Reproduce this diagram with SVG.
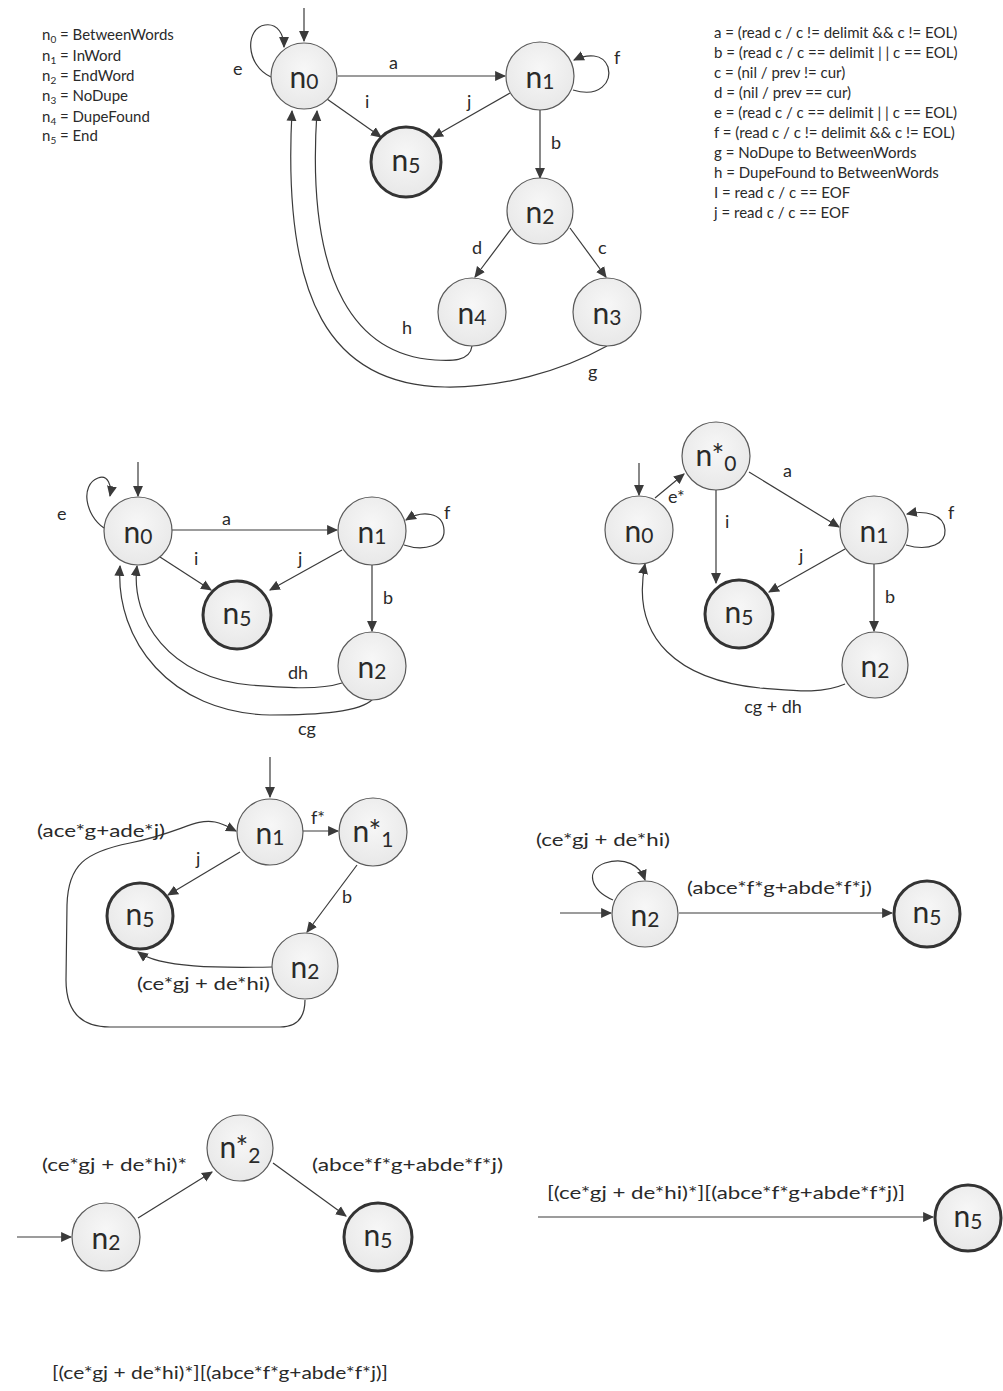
<svg xmlns="http://www.w3.org/2000/svg" width="1003" height="1391" viewBox="0 0 1003 1391">
  <defs>
    <marker id="arr" viewBox="0 0 10 10" refX="9" refY="5" markerWidth="11" markerHeight="11" markerUnits="userSpaceOnUse" orient="auto">
      <path d="M0,0.5 L10,5 L0,9.5 z" fill="#3a3a3a"/>
    </marker>
    <radialGradient id="nodeFill" cx="0.5" cy="0.4" r="0.6">
      <stop offset="0" stop-color="#f7f7f7"/>
      <stop offset="1" stop-color="#e8e8e8"/>
    </radialGradient>
  </defs>
  <style>
    text { font-family: Lato, "Liberation Sans", sans-serif; fill: #2a2a2a; }
    .st { fill: url(#nodeFill); stroke: #5a5a5a; stroke-width: 1.2; }
    .fin { fill: url(#nodeFill); stroke: #333; stroke-width: 3; }
    .nl { font-size: 30px; text-anchor: middle; }
    .sub { font-size: 21px; }
    .e { fill: none; stroke: #3a3a3a; stroke-width: 1.2; marker-end: url(#arr); }
    .lbl { font-size: 18px; }
    .leg { font-size: 15px; }
    .lsub { font-size: 10px; }
  </style>

  <rect width="1003" height="1391" fill="#ffffff"/>

  <!-- state legend -->
  <g id="legend-states">
    <text x="42" y="40" class="leg">n<tspan class="lsub" dy="3">0</tspan><tspan dy="-3"> = BetweenWords</tspan></text>
    <text x="42" y="61" class="leg">n<tspan class="lsub" dy="3">1</tspan><tspan dy="-3"> = InWord</tspan></text>
    <text x="42" y="81" class="leg">n<tspan class="lsub" dy="3">2</tspan><tspan dy="-3"> = EndWord</tspan></text>
    <text x="42" y="101" class="leg">n<tspan class="lsub" dy="3">3</tspan><tspan dy="-3"> = NoDupe</tspan></text>
    <text x="42" y="122" class="leg">n<tspan class="lsub" dy="3">4</tspan><tspan dy="-3"> = DupeFound</tspan></text>
    <text x="42" y="141" class="leg">n<tspan class="lsub" dy="3">5</tspan><tspan dy="-3"> = End</tspan></text>
  </g>

  <!-- transition legend -->
  <g id="legend-transitions">
    <text x="714" y="38" class="leg">a = (read c / c != delimit &amp;&amp; c != EOL)</text>
    <text x="714" y="58" class="leg">b = (read c / c == delimit | | c == EOL)</text>
    <text x="714" y="78" class="leg">c =  (nil / prev != cur)</text>
    <text x="714" y="98" class="leg">d =  (nil / prev == cur)</text>
    <text x="714" y="118" class="leg">e =  (read c / c == delimit | | c == EOL)</text>
    <text x="714" y="138" class="leg">f = (read c / c != delimit &amp;&amp; c != EOL)</text>
    <text x="714" y="158" class="leg">g = NoDupe to BetweenWords</text>
    <text x="714" y="178" class="leg">h = DupeFound to BetweenWords</text>
    <text x="714" y="198" class="leg">I = read c / c == EOF</text>
    <text x="714" y="218" class="leg">j = read c / c == EOF</text>
  </g>

  <!-- ===== Automaton 1: full machine ===== -->
  <g id="a1-connectors">
    <path class="e" d="M304,8 L304,41"/>
    <path class="e" d="M271,77 C 245,65 245,28 265,25 C 278,23 284,35 284,47"/>
    <path class="e" d="M338,76 L505,76"/>
    <path class="e" d="M327,99 L381,137"/>
    <path class="e" d="M510,93 L433,137"/>
    <path class="e" d="M573,90 C 600,98 612,82 608,67 C 603,53 587,54 574,60"/>
    <path class="e" d="M540,109 L540,178"/>
    <path class="e" d="M511,229 L475,277"/>
    <path class="e" d="M570,228 L606,277"/>
    <path class="e" d="M472,346 C 470,362 450,361 435,360 C 360,355 305,290 317,111"/>
    <path class="e" d="M607,346 C 560,372 500,388 445,387 C 330,385 282,300 292,111"/>
    <text x="233" y="75" class="lbl">e</text>
    <text x="389" y="69" class="lbl">a</text>
    <text x="365" y="108" class="lbl">i</text>
    <text x="467" y="108" class="lbl">j</text>
    <text x="614" y="64" class="lbl">f</text>
    <text x="551" y="149" class="lbl">b</text>
    <text x="472" y="254" class="lbl">d</text>
    <text x="598" y="254" class="lbl">c</text>
    <text x="402" y="334" class="lbl">h</text>
    <text x="588" y="378" class="lbl">g</text>
  </g>
  <g id="a1-n0"><circle class="st" cx="304" cy="76" r="33"/><text class="nl" x="304" y="88">n<tspan class="sub" dy="1">0</tspan></text></g>
  <g id="a1-n1"><circle class="st" cx="540" cy="76" r="34"/><text class="nl" x="540" y="88">n<tspan class="sub" dy="1">1</tspan></text></g>
  <g id="a1-n5"><circle class="fin" cx="406" cy="162" r="35"/><text class="nl" x="406" y="171">n<tspan class="sub" dy="2">5</tspan></text></g>
  <g id="a1-n2"><circle class="st" cx="540" cy="211" r="33"/><text class="nl" x="540" y="223">n<tspan class="sub" dy="1">2</tspan></text></g>
  <g id="a1-n4"><circle class="st" cx="472" cy="312" r="34"/><text class="nl" x="472" y="324">n<tspan class="sub" dy="1">4</tspan></text></g>
  <g id="a1-n3"><circle class="st" cx="607" cy="312" r="34"/><text class="nl" x="607" y="324">n<tspan class="sub" dy="1">3</tspan></text></g>

  <!-- ===== Automaton 2: n3/n4 eliminated ===== -->
  <g id="a2-connectors">
    <path class="e" d="M138,462 L138,496"/>
    <path class="e" d="M104,528 C 85,515 80,485 98,478 C 108,474 112,486 110,496"/>
    <path class="e" d="M172,530 L337,530"/>
    <path class="e" d="M160,557 L211,590"/>
    <path class="e" d="M342,550 L270,590"/>
    <path class="e" d="M404,545 C 425,552 445,545 444,530 C 443,512 422,510 406,520"/>
    <path class="e" d="M372,565 L372,631"/>
    <path class="e" d="M342,683 C 320,690 290,688 250,685 C 170,678 130,620 137,566"/>
    <path class="e" d="M373,699 C 360,712 320,715 270,715 C 170,713 115,640 120,566"/>
    <text x="57" y="520" class="lbl">e</text>
    <text x="222" y="525" class="lbl">a</text>
    <text x="194" y="565" class="lbl">i</text>
    <text x="298" y="565" class="lbl">j</text>
    <text x="444" y="519" class="lbl">f</text>
    <text x="383" y="604" class="lbl">b</text>
    <text x="288" y="679" class="lbl">dh</text>
    <text x="298" y="735" class="lbl">cg</text>
  </g>
  <g id="a2-n0"><circle class="st" cx="138" cy="531" r="34"/><text class="nl" x="138" y="543">n<tspan class="sub" dy="1">0</tspan></text></g>
  <g id="a2-n1"><circle class="st" cx="372" cy="531" r="34"/><text class="nl" x="372" y="543">n<tspan class="sub" dy="1">1</tspan></text></g>
  <g id="a2-n5"><circle class="fin" cx="237" cy="615" r="34"/><text class="nl" x="237" y="624">n<tspan class="sub" dy="2">5</tspan></text></g>
  <g id="a2-n2"><circle class="st" cx="372" cy="666" r="34"/><text class="nl" x="372" y="678">n<tspan class="sub" dy="1">2</tspan></text></g>

  <!-- ===== Automaton 3: e-loop split out ===== -->
  <g id="a3-connectors">
    <path class="e" d="M639,463 L639,495"/>
    <path class="e" d="M655,498 L684,474"/>
    <path class="e" d="M749,472 L839,527"/>
    <path class="e" d="M716,489 L716,583"/>
    <path class="e" d="M845,549 L769,592"/>
    <path class="e" d="M906,545 C 930,552 946,543 945,530 C 944,514 925,510 907,514"/>
    <path class="e" d="M874,563 L874,631"/>
    <path class="e" d="M845,684 C 820,695 790,690 760,688 C 680,680 630,640 645,564"/>
    <text x="668" y="503" class="lbl">e*</text>
    <text x="783" y="477" class="lbl">a</text>
    <text x="725" y="528" class="lbl">i</text>
    <text x="799" y="562" class="lbl">j</text>
    <text x="948" y="519" class="lbl">f</text>
    <text x="885" y="603" class="lbl">b</text>
    <text x="773" y="713" class="lbl" text-anchor="middle">cg + dh</text>
  </g>
  <g id="a3-n0"><circle class="st" cx="639" cy="530" r="34"/><text class="nl" x="639" y="542">n<tspan class="sub" dy="1">0</tspan></text></g>
  <g id="a3-n0star"><circle class="st" cx="716" cy="456" r="34"/><text class="nl" x="716" y="466">n*<tspan class="sub" dy="5">0</tspan></text></g>
  <g id="a3-n1"><circle class="st" cx="874" cy="530" r="34"/><text class="nl" x="874" y="542">n<tspan class="sub" dy="1">1</tspan></text></g>
  <g id="a3-n5"><circle class="fin" cx="739" cy="614" r="34"/><text class="nl" x="739" y="623">n<tspan class="sub" dy="2">5</tspan></text></g>
  <g id="a3-n2"><circle class="st" cx="875" cy="665" r="33"/><text class="nl" x="875" y="677">n<tspan class="sub" dy="1">2</tspan></text></g>

  <!-- ===== Automaton 4: n0 eliminated ===== -->
  <g id="a4-connectors">
    <path class="e" d="M270,757 L270,797"/>
    <path class="e" d="M303,831 L338,831"/>
    <path class="e" d="M240,852 L168,895"/>
    <path class="e" d="M357,865 L307,932"/>
    <path class="e" d="M272,967 C 220,968 160,968 138,952"/>
    <path class="e" d="M305,1000 C 305,1020 295,1027 280,1027 L 110,1027 C 80,1027 66,1010 66,980 L 67,905 C 68,865 85,852 130,843 C 180,833 195,818 215,822 C 225,824 230,828 236,831"/>
    <text x="37" y="837" class="lbl" textLength="128" lengthAdjust="spacingAndGlyphs">(ace*g+ade*j)</text>
    <text x="311" y="824" class="lbl">f*</text>
    <text x="196" y="865" class="lbl">j</text>
    <text x="342" y="903" class="lbl">b</text>
    <text x="137" y="990" class="lbl" textLength="133" lengthAdjust="spacingAndGlyphs">(ce*gj + de*hi)</text>
  </g>
  <g id="a4-n1"><circle class="st" cx="270" cy="832" r="33"/><text class="nl" x="270" y="844">n<tspan class="sub" dy="1">1</tspan></text></g>
  <g id="a4-n1star"><circle class="st" cx="373" cy="832" r="34"/><text class="nl" x="373" y="842">n*<tspan class="sub" dy="5">1</tspan></text></g>
  <g id="a4-n5"><circle class="fin" cx="140" cy="916" r="33"/><text class="nl" x="140" y="925">n<tspan class="sub" dy="2">5</tspan></text></g>
  <g id="a4-n2"><circle class="st" cx="305" cy="966" r="33"/><text class="nl" x="305" y="978">n<tspan class="sub" dy="1">2</tspan></text></g>

  <!-- ===== Automaton 5: n1 eliminated ===== -->
  <g id="a5-connectors">
    <path class="e" d="M560,913 L611,913"/>
    <path class="e" d="M613,900 C 590,890 585,870 605,863 C 625,857 640,865 645,880"/>
    <path class="e" d="M679,913 L892,913"/>
    <text x="536" y="846" class="lbl" textLength="134" lengthAdjust="spacingAndGlyphs">(ce*gj + de*hi)</text>
    <text x="687" y="894" class="lbl" textLength="185" lengthAdjust="spacingAndGlyphs">(abce*f*g+abde*f*j)</text>
  </g>
  <g id="a5-n2"><circle class="st" cx="645" cy="914" r="33"/><text class="nl" x="645" y="926">n<tspan class="sub" dy="1">2</tspan></text></g>
  <g id="a5-n5"><circle class="fin" cx="927" cy="914" r="33"/><text class="nl" x="927" y="923">n<tspan class="sub" dy="2">5</tspan></text></g>

  <!-- ===== Automaton 6: loop on n2 split out ===== -->
  <g id="a6-connectors">
    <path class="e" d="M17,1237 L71,1237"/>
    <path class="e" d="M138,1218 L212,1172"/>
    <path class="e" d="M273,1163 L346,1216"/>
    <text x="42" y="1171" class="lbl" textLength="145" lengthAdjust="spacingAndGlyphs">(ce*gj + de*hi)*</text>
    <text x="312" y="1171" class="lbl" textLength="191" lengthAdjust="spacingAndGlyphs">(abce*f*g+abde*f*j)</text>
  </g>
  <g id="a6-n2"><circle class="st" cx="106" cy="1237" r="34"/><text class="nl" x="106" y="1249">n<tspan class="sub" dy="1">2</tspan></text></g>
  <g id="a6-n2star"><circle class="st" cx="240" cy="1148" r="33"/><text class="nl" x="240" y="1158">n*<tspan class="sub" dy="5">2</tspan></text></g>
  <g id="a6-n5"><circle class="fin" cx="378" cy="1237" r="34"/><text class="nl" x="378" y="1246">n<tspan class="sub" dy="2">5</tspan></text></g>

  <!-- ===== Automaton 7: single transition ===== -->
  <g id="a7-connectors">
    <path class="e" d="M538,1217 L933,1217"/>
    <text x="547" y="1199" class="lbl" textLength="358" lengthAdjust="spacingAndGlyphs">[(ce*gj + de*hi)*][(abce*f*g+abde*f*j)]</text>
  </g>
  <g id="a7-n5"><circle class="fin" cx="968" cy="1218" r="33"/><text class="nl" x="968" y="1227">n<tspan class="sub" dy="2">5</tspan></text></g>

  <!-- resulting expression -->
  <text x="52" y="1379" class="lbl" textLength="336" lengthAdjust="spacingAndGlyphs">[(ce*gj + de*hi)*][(abce*f*g+abde*f*j)]</text>
</svg>
